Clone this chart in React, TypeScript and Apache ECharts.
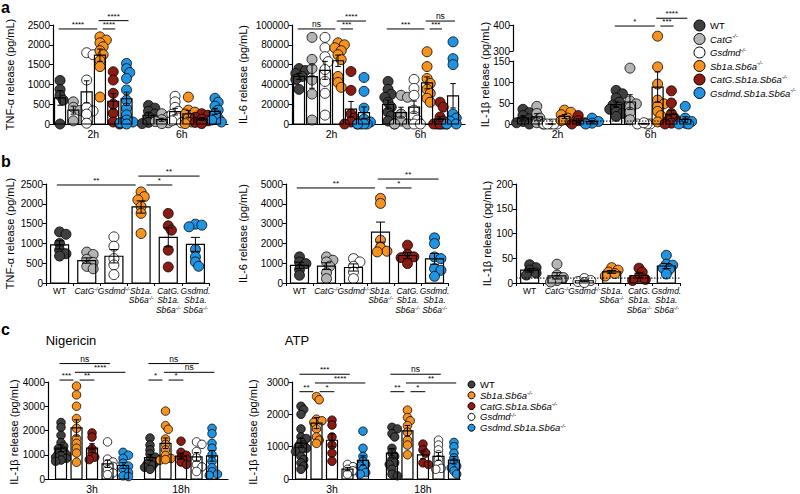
import React, { useEffect, useRef } from 'react';
import * as echarts from 'echarts';

const FONT = '"Liberation Sans", Arial, Helvetica, sans-serif';

// ---------------- categories ----------------
const GENOS_A = ['WT', 'CatG-/-', 'Gsdmd-/-', 'Sb1a.Sb6a-/-', 'CatG.Sb1a.Sb6a-/-', 'Gsdmd.Sb1a.Sb6a-/-'];
const GENOS_C = ['WT', 'Sb1a.Sb6a-/-', 'CatG.Sb1a.Sb6a-/-', 'Gsdmd-/-', 'Gsdmd.Sb1a.Sb6a-/-'];
const TIMES_A = ['2h', '6h'];
const TIMES_C = ['3h', '18h'];
const LABELS_B = ['WT', 'CatG-/-', 'Gsdmd-/-', 'Sb1a.\nSb6a-/-', 'CatG.\nSb1a.\nSb6a-/-', 'Gsdmd.\nSb1a.\nSb6a-/-'];
const COLORS: Record<string, string> = {
  'WT': '#3f3f3f',
  'CatG-/-': '#b4b4b4',
  'Gsdmd-/-': '#ffffff',
  'Sb1a.Sb6a-/-': '#f7921e',
  'CatG.Sb1a.Sb6a-/-': '#8c1b14',
  'Gsdmd.Sb1a.Sb6a-/-': '#1e94e3',
};

// ---------------- panel a: [genotype][replicate] ----------------
const aTNF_2h = [
  [1100, 870, 720, 600, 0],
  [560, 420, 340, 80],
  [1800, 1750, 1110, 420, 330, 250, 20],
  [2200, 2120, 2050, 1950, 1850, 1750, 1600, 1450, 680],
  [1320, 1110, 775, 500, 270, 50, 0],
  [1530, 1400, 1300, 1150, 860, 600, 400, 230, 100, 50, 30, 0],
];
const aTNF_6h = [
  [470, 400, 320, 250, 180, 100, 40, 10],
  [260, 180, 110, 60, 30, 10],
  [700, 560, 420, 320, 240, 150, 80, 30],
  [680, 350, 300, 250, 150, 50, 10],
  [260, 220, 170, 120, 80, 40, 10],
  [650, 550, 450, 350, 250, 150, 100, 50],
];
const aIL6_2h = [
  [56000, 54000, 51000, 48000, 45000, 35000],
  [87500, 65300, 56000, 44400, 30300, 4000],
  [87500, 77000, 68000, 63000, 55000, 43000, 31000, 9000],
  [82000, 80000, 77000, 74000, 70000, 65000, 48000, 42000, 37000],
  [53000, 34000, 10000, 6000, 2000, 0, 0],
  [47000, 33000, 16000, 5000, 2000, 0, 0, 0, 0],
];
const aIL6_6h = [
  [43000, 35000, 30000, 27000, 22000, 17000, 12000, 8000, 3000, 0],
  [29000, 27000, 10000, 3000, 0, 0],
  [45000, 36000, 29000, 14000, 8000, 4000, 0, 0],
  [73000, 58000, 46000, 41000, 35000, 31000, 26000, 22000],
  [22000, 17000, 7000, 3000, 0, 0, 0, 0, 0, 0],
  [83000, 66000, 60000, 10000, 6000, 3000, 0, 0],
];
const aIL1_2h = [
  [35, 27, 20, 12, 6, 3, 0],
  [42, 25, 14, 3, 0],
  [0, 0, 0, 0, 0],
  [33, 28, 22, 14, 8, 3],
  [20, 8, 3, 0],
  [14, 6, 2, 0],
];
const aIL1_6h = [
  [80, 72, 62, 52, 45, 40, 35, 30, 25, 18],
  [133, 55, 48, 40, 28, 10],
  [0, 0, 0, 3],
  [357, 136, 95, 57, 48, 42, 30, 20, 5],
  [79, 50, 25, 14, 8, 5, 2, 0],
  [42, 14, 6, 2, 0, 0],
];

// ---------------- panel b ----------------
const bTNF = [
  [1290, 1230, 1000, 830, 740, 680],
  [780, 720, 600, 520, 420, 360],
  [1165, 930, 617, 456, 211],
  [2300, 2180, 2100, 1930, 1760, 1250],
  [1757, 1444, 1334, 828, 405],
  [1486, 1461, 1419, 845, 659, 532, 422],
];
const bIL6 = [
  [1320, 1060, 980, 680, 390],
  [1318, 1149, 1064, 845, 507, 220],
  [1233, 1064, 845, 557, 220],
  [4274, 4020, 2162, 1791, 1605, 1571],
  [1910, 1450, 1320, 1280, 980],
  [2280, 1993, 1318, 1233, 726, 642, 338],
];
const bIL1 = [
  [37, 31, 26, 20, 16],
  [38, 16, 11, 5, 2],
  [9, 5, 3, 1],
  [31, 26, 22, 19, 14],
  [30, 22, 12, 7, 5],
  [56, 38, 36, 30, 28, 18],
];

// ---------------- panel c: order WT, Sb1a.Sb6a, CatG.Sb1a.Sb6a, Gsdmd, Gsdmd.Sb1a.Sb6a ----------------
const cNig_3h = [
  [2330, 2130, 1800, 1500, 1350, 1250, 1150, 1050, 1000, 950, 900, 850, 780, 730],
  [3830, 3470, 3000, 2490, 2090, 1670, 1470, 1270, 1070, 690],
  [1900, 1730, 1250, 1050, 900, 800],
  [1530, 820, 700, 620, 520, 380, 250, 180],
  [1100, 980, 850, 650, 530, 400, 270, 130, 100],
];
const cNig_18h = [
  [1690, 1400, 1200, 1030, 900, 780, 700, 620, 560, 480, 400],
  [2800, 2200, 2050, 1650, 1430, 1200, 970, 850, 780, 800],
  [1560, 1100, 980, 870, 800, 700, 600],
  [1530, 1430, 1130, 870, 600, 500, 310],
  [2090, 1870, 1470, 1270, 1000, 730, 470, 300, 200, 150],
];
const cATP_3h = [
  [2250, 2150, 2000, 1550, 1300, 1250, 1150, 1050, 1000, 950, 900, 850, 700, 600, 500, 400, 300],
  [2550, 2450, 1850, 1800, 1750, 1550, 1300, 1200, 1100],
  [1820, 1670, 1300, 1050, 800, 550],
  [450, 380, 300, 250, 150],
  [1480, 950, 700, 550, 450, 400, 300, 200, 150],
];
const cATP_18h = [
  [1600, 1550, 1400, 1300, 950, 800, 700, 600, 500, 450, 300, 150, 100],
  [2130, 1900, 1800, 1650, 1450, 1200, 1050, 750],
  [1080, 900, 800, 500, 450],
  [1200, 1050, 900, 750, 600, 450, 330, 300],
  [1130, 1000, 800, 650, 500, 400, 350, 250, 150],
];

// ---------------- significance: [timeIdx, fromGroup, toGroup, yValue, label] ----------------
type Bracket = [number, number, number, number, string];
const sigA_TNF: Bracket[] = [[0, 0, 3, 2400, '****'], [0, 3, 5, 2610, '****'], [0, 3, 4, 2400, '****']];
const sigA_IL6: Bracket[] = [
  [0, 0, 3, 96000, 'ns'], [0, 3, 5, 104000, '****'], [0, 3, 4, 96000, '***'],
  [1, 0, 3, 96000, '***'], [1, 3, 5, 104000, 'ns'], [1, 3, 4, 96000, '***'],
];
const sigA_IL1: Bracket[] = [[1, 0, 3, 396, '*'], [1, 3, 5, 426, '****'], [1, 3, 4, 396, '***']];
const sigB_TNF: Bracket[] = [[0, 0, 3, 2475, '**'], [0, 3, 5, 2700, '**'], [0, 3, 4, 2475, '*']];
const sigB_IL6: Bracket[] = [[0, 0, 3, 4800, '**'], [0, 3, 5, 5250, '**'], [0, 3, 4, 4800, '*']];
const sigC_Nig: Bracket[] = [
  [0, 0, 3, 4760, 'ns'], [0, 1, 4, 4400, '****'], [0, 0, 1, 4080, '***'], [0, 1, 2, 4080, '**'],
  [1, 0, 3, 4760, 'ns'], [1, 1, 4, 4400, 'ns'], [1, 0, 1, 4080, '*'], [1, 1, 2, 4080, '*'],
];
const sigC_ATP: Bracket[] = [
  [0, 0, 3, 3240, '***'], [0, 1, 4, 2970, '****'], [0, 0, 1, 2700, '**'], [0, 1, 2, 2700, '*'],
  [1, 0, 3, 3240, 'ns'], [1, 1, 4, 2970, '**'], [1, 0, 1, 2700, '**'], [1, 1, 2, 2700, '*'],
];

// ---------------- helpers ----------------
const mean = (v: number[]) => v.reduce((a, b) => a + b, 0) / v.length;
const sem = (v: number[]) => {
  if (v.length < 2) return 0;
  const m = mean(v);
  const sd = Math.sqrt(v.reduce((a, b) => a + (b - m) * (b - m), 0) / (v.length - 1));
  return sd / Math.sqrt(v.length);
};

// simple beeswarm layout: returns horizontal pixel offsets
function swarm(values: number[], pyPerUnit: number, d: number): number[] {
  const order = values.map((_, i) => i).sort((a, b) => values[b] - values[a]);
  const placed: [number, number][] = [];
  const res = new Array(values.length).fill(0);
  const step = d * 0.32;
  const cands = [0, 1, -1, 2, -2];
  for (const i of order) {
    const y = values[i] * pyPerUnit;
    let best = 0;
    let bestScore = -Infinity;
    for (const k of cands) {
      const x = k * step;
      let minD = Infinity;
      for (const [px, py] of placed) minD = Math.min(minD, Math.hypot(px - x, py - y));
      if (minD >= d * 0.5) { best = x; break; }
      if (minD > bestScore) { bestScore = minD; best = x; }
    }
    placed.push([best, y]);
    res[i] = best;
  }
  return res;
}

function richName(name: string, sfx = ''): string {
  return name.split('\n').map((line) => {
    if (line === 'WT') return `{n${sfx}|WT}`;
    if (line.endsWith('-/-')) return `{i${sfx}|${line.slice(0, -3)}}{s${sfx}|-/-}`;
    return `{i${sfx}|${line}}`;
  }).join('\n');
}

const richSet = (fs: number, lh: number, sfx = '') => ({
  ['n' + sfx]: { fontSize: fs, lineHeight: lh, color: '#000', fontFamily: FONT },
  ['i' + sfx]: { fontSize: fs, lineHeight: lh, color: '#000', fontStyle: 'italic', fontFamily: FONT },
  ['s' + sfx]: { fontSize: fs * 0.6, lineHeight: fs * 0.6, color: '#000', fontStyle: 'italic', verticalAlign: 'top', fontFamily: FONT },
});

interface Sub {
  grid: { left: number; top: number; width: number; height: number };
  xMin: number; xMax: number; stride: number;
  yMin: number; yMax: number; yInterval: number;
  data: number[][][];
  genos: string[];
  times?: string[];
  catLabels?: string[];
  brackets: Bracket[];
  barW: number; sym: number;
  refLine?: number;
  upper?: { top: number; height: number; yMin: number; yMax: number; yInterval: number };
}

const AXLINE = { show: true, onZero: false, lineStyle: { color: '#000', width: 1.2 } };

function yAxisCfg(gi: number, min: number, max: number, interval: number) {
  return {
    type: 'value', gridIndex: gi, min, max, interval,
    axisLine: AXLINE,
    axisTick: { show: true, length: 3.5, lineStyle: { color: '#000', width: 1 } },
    splitLine: { show: false },
    axisLabel: { color: '#000', fontSize: 10, fontFamily: FONT, margin: 3, formatter: (v: number) => String(v) },
  };
}

function bracketSeries(xi: number, yi: number, brs: Bracket[], stride: number) {
  const segs = brs.map((b) => {
    const [t, g1, g2, y] = b;
    let s = g1 - 0.1;
    let e = g2 + 0.15;
    if (brs.some((o) => o !== b && o[0] === t && o[3] === y && o[2] === g1)) s = g1 + 0.2;
    if (brs.some((o) => o !== b && o[0] === t && o[3] === y && o[1] === g2)) e = g2 - 0.2;
    return [t * stride + s, t * stride + e, y];
  });
  const labels = brs.map((b) => b[4]);
  return {
    type: 'custom', xAxisIndex: xi, yAxisIndex: yi, z: 5, clip: false, silent: true,
    data: segs,
    renderItem: (params: any, api: any) => {
      const lab = labels[params.dataIndex];
      const a = api.coord([api.value(0), api.value(2)]);
      const b = api.coord([api.value(1), api.value(2)]);
      return {
        type: 'group',
        children: [
          { type: 'line', shape: { x1: a[0], y1: a[1], x2: b[0], y2: b[1] }, style: { stroke: '#000', lineWidth: 1 } },
          {
            type: 'text', x: (a[0] + b[0]) / 2, y: a[1] - 0.5,
            style: { text: lab, fontSize: lab === 'ns' ? 8.5 : 8, fill: '#000', align: 'center', verticalAlign: 'bottom', fontFamily: FONT },
          },
        ],
      };
    },
  };
}

function addSub(opt: any, s: Sub) {
  const { grid, xMin, xMax, stride, yMin, yMax, yInterval, data, genos } = s;
  const unitPx = grid.width / (xMax - xMin);
  const py = grid.height / (yMax - yMin);

  const gi = opt.grid.length;
  opt.grid.push({ ...grid });
  let xi: number;
  if (s.catLabels) {
    opt.xAxis.push({
      type: 'category', gridIndex: gi, data: s.catLabels, position: 'bottom',
      axisLine: AXLINE,
      axisTick: { show: true, length: 3, lineStyle: { color: '#000', width: 1 } },
      splitLine: { show: false },
      axisLabel: {
        interval: 0, margin: 3, color: '#000', fontSize: 8.5, lineHeight: 9.5,
        formatter: (v: string) => richName(v), rich: richSet(8.5, 9.5),
      },
    });
    xi = opt.xAxis.length;
    opt.xAxis.push({ type: 'value', gridIndex: gi, min: xMin, max: xMax, show: false, position: 'top' });
  } else {
    const times = s.times || [];
    const centers = times.map((_, t) => t * stride + (genos.length - 1) / 2);
    xi = opt.xAxis.length;
    opt.xAxis.push({
      type: 'value', gridIndex: gi, min: xMin, max: xMax, position: 'bottom',
      axisLine: AXLINE, axisTick: { show: false }, splitLine: { show: false },
      axisLabel: {
        color: '#000', fontSize: 10.5, fontFamily: FONT, margin: 4, customValues: centers,
        formatter: (v: number) => {
          let best = 0;
          centers.forEach((c, i) => { if (Math.abs(c - v) < Math.abs(centers[best] - v)) best = i; });
          return times[best];
        },
      },
    });
  }
  const yi = opt.yAxis.length;
  opt.yAxis.push(yAxisCfg(gi, yMin, yMax, yInterval));

  let uxi = -1, uyi = -1;
  if (s.upper) {
    const ug = opt.grid.length;
    opt.grid.push({ left: grid.left, width: grid.width, top: s.upper.top, height: s.upper.height });
    uxi = opt.xAxis.length;
    opt.xAxis.push({ type: 'value', gridIndex: ug, min: xMin, max: xMax, show: false });
    uyi = opt.yAxis.length;
    opt.yAxis.push(yAxisCfg(ug, s.upper.yMin, s.upper.yMax, s.upper.yInterval));
  }

  const bars: number[][] = [];
  const pts: Record<string, { low: number[][]; up: number[][] }> = {};
  genos.forEach((g) => { pts[g] = { low: [], up: [] }; });
  data.forEach((byGeno, t) => byGeno.forEach((vals, g) => {
    const x = t * stride + g;
    bars.push([x, mean(vals), sem(vals)]);
    const low = vals.filter((v) => !s.upper || v <= yMax);
    const up = vals.filter((v) => s.upper && v > yMax);
    const offs = swarm(low, py, s.sym);
    low.forEach((v, i) => pts[genos[g]].low.push([x + offs[i] / unitPx, v]));
    up.forEach((v) => pts[genos[g]].up.push([x, v]));
  }));

  const bw = s.barW;
  opt.series.push({
    type: 'custom', name: 'bars', xAxisIndex: xi, yAxisIndex: yi, z: 1, silent: true, clip: false,
    data: bars,
    renderItem: (_p: any, api: any) => {
      const x = api.value(0), m = api.value(1);
      const p0 = api.coord([x, 0]);
      const p1 = api.coord([x, m]);
      return { type: 'rect', shape: { x: p0[0] - bw / 2, y: p1[1], width: bw, height: p0[1] - p1[1] }, style: { fill: '#fff' } };
    },
  });

  genos.forEach((g) => {
    const common = {
      type: 'scatter', name: g, symbol: 'circle', symbolSize: s.sym, z: 2, clip: false, silent: true,
      itemStyle: { color: COLORS[g], borderColor: '#000', borderWidth: 0.8, opacity: 1 },
    };
    opt.series.push({ ...common, xAxisIndex: xi, yAxisIndex: yi, data: pts[g].low });
    if (s.upper && pts[g].up.length) opt.series.push({ ...common, xAxisIndex: uxi, yAxisIndex: uyi, data: pts[g].up });
  });

  opt.series.push({
    type: 'custom', name: 'barOutline', xAxisIndex: xi, yAxisIndex: yi, z: 3, silent: true, clip: false,
    data: bars,
    renderItem: (_p: any, api: any) => {
      const x = api.value(0), m = api.value(1), e = api.value(2);
      const p0 = api.coord([x, 0]);
      const p1 = api.coord([x, m]);
      const pu = api.coord([x, m + e]);
      const pl = api.coord([x, Math.max(0, m - e)]);
      const cw = bw * 0.5;
      const ls = { stroke: '#000', lineWidth: 1 };
      return {
        type: 'group',
        children: [
          { type: 'rect', shape: { x: p0[0] - bw / 2, y: p1[1], width: bw, height: p0[1] - p1[1] }, style: { fill: 'none', stroke: '#000', lineWidth: 1.2 } },
          { type: 'line', shape: { x1: p1[0], y1: pl[1], x2: p1[0], y2: pu[1] }, style: ls },
          { type: 'line', shape: { x1: p1[0] - cw / 2, y1: pu[1], x2: p1[0] + cw / 2, y2: pu[1] }, style: ls },
          { type: 'line', shape: { x1: p1[0] - cw / 2, y1: pl[1], x2: p1[0] + cw / 2, y2: pl[1] }, style: ls },
        ],
      };
    },
  });

  if (s.refLine !== undefined) {
    opt.series.push({
      type: 'line', name: 'limit', xAxisIndex: xi, yAxisIndex: yi, z: 4, silent: true, symbol: 'none',
      data: [[xMin, s.refLine], [xMax, s.refLine]],
      lineStyle: { color: '#000', width: 1, type: [1.5, 1.5] },
    });
  }

  if (s.brackets.length) {
    if (s.upper) opt.series.push(bracketSeries(uxi, uyi, s.brackets, stride));
    else opt.series.push(bracketSeries(xi, yi, s.brackets, stride));
  }
}

function yTitle(text: string, x: number, y: number) {
  return {
    type: 'text', x, y, rotation: Math.PI / 2,
    style: { text, fontSize: 11, fill: '#000', fontFamily: FONT, align: 'center', verticalAlign: 'middle' },
  };
}

function buildOption() {
  const opt: any = {
    animation: false,
    textStyle: { fontFamily: FONT },
    grid: [], xAxis: [], yAxis: [], series: [],
  };

  // panel a
  addSub(opt, {
    grid: { left: 53, top: 25, width: 175, height: 99 }, xMin: -0.53, xMax: 12.63, stride: 6.65,
    yMin: 0, yMax: 2500, yInterval: 500, data: [aTNF_2h, aTNF_6h], genos: GENOS_A, times: TIMES_A,
    brackets: sigA_TNF, barW: 11, sym: 10,
  });
  addSub(opt, {
    grid: { left: 292, top: 25, width: 173, height: 99 }, xMin: -0.54, xMax: 12.77, stride: 6.85,
    yMin: 0, yMax: 100000, yInterval: 20000, data: [aIL6_2h, aIL6_6h], genos: GENOS_A, times: TIMES_A,
    brackets: sigA_IL6, barW: 11, sym: 10,
  });
  addSub(opt, {
    grid: { left: 513, top: 61, width: 180, height: 63 }, xMin: -0.72, xMax: 12.3, stride: 6.74,
    yMin: 0, yMax: 150, yInterval: 50, data: [aIL1_2h, aIL1_6h], genos: GENOS_A, times: TIMES_A,
    brackets: sigA_IL1, barW: 11, sym: 10, refLine: 7,
    upper: { top: 25, height: 26, yMin: 300, yMax: 400, yInterval: 100 },
  });

  // panel b
  addSub(opt, {
    grid: { left: 46, top: 184, width: 163, height: 99 }, xMin: -0.5, xMax: 5.5, stride: 0,
    yMin: 0, yMax: 2500, yInterval: 500, data: [bTNF], genos: GENOS_A, catLabels: LABELS_B,
    brackets: sigB_TNF, barW: 18, sym: 10,
  });
  addSub(opt, {
    grid: { left: 286, top: 184, width: 162, height: 99 }, xMin: -0.5, xMax: 5.5, stride: 0,
    yMin: 0, yMax: 5000, yInterval: 1000, data: [bIL6], genos: GENOS_A, catLabels: LABELS_B,
    brackets: sigB_IL6, barW: 18, sym: 10,
  });
  addSub(opt, {
    grid: { left: 516, top: 184, width: 164, height: 99 }, xMin: -0.5, xMax: 5.5, stride: 0,
    yMin: 0, yMax: 200, yInterval: 50, data: [bIL1], genos: GENOS_A, catLabels: LABELS_B,
    brackets: [], barW: 18, sym: 10, refLine: 10,
  });

  // panel c
  addSub(opt, {
    grid: { left: 48, top: 382, width: 180, height: 100 }, xMin: -0.84, xMax: 10.77, stride: 5.74,
    yMin: 0, yMax: 4000, yInterval: 1000, data: [cNig_3h, cNig_18h], genos: GENOS_C, times: TIMES_C,
    brackets: sigC_Nig, barW: 11, sym: 8.5,
  });
  addSub(opt, {
    grid: { left: 292, top: 382, width: 168, height: 100 }, xMin: -0.58, xMax: 10.26, stride: 5.87,
    yMin: 0, yMax: 3000, yInterval: 1000, data: [cATP_3h, cATP_18h], genos: GENOS_C, times: TIMES_C,
    brackets: sigC_ATP, barW: 11, sym: 8.5,
  });

  opt.legend = [
    {
      orient: 'vertical', left: 693.5, top: 19.5, itemWidth: 11, itemHeight: 11, itemGap: 1.5,
      icon: 'circle', selectedMode: false, data: GENOS_A, padding: 0,
      itemStyle: { borderColor: '#000', borderWidth: 1 },
      formatter: (n: string) => richName(n, 'L'),
      textStyle: { fontSize: 9.5, color: '#000', rich: richSet(9.5, 11.5, 'L') },
    },
    {
      orient: 'vertical', left: 467.5, top: 379.5, itemWidth: 7, itemHeight: 7, itemGap: 0.8,
      icon: 'circle', selectedMode: false, data: GENOS_C, padding: 0,
      itemStyle: { borderColor: '#000', borderWidth: 1 },
      formatter: (n: string) => richName(n, 'C'),
      textStyle: { fontSize: 9.5, color: '#000', rich: richSet(9.5, 10, 'C') },
    },
  ];

  const letter = (t: string, x: number, y: number) => ({
    type: 'text', x, y,
    style: { text: t, fontSize: 16, fontWeight: 'bold', fill: '#000', fontFamily: FONT, align: 'left', verticalAlign: 'middle' },
  });
  const title = (t: string, x: number, y: number) => ({
    type: 'text', x, y,
    style: { text: t, fontSize: 13, fill: '#000', fontFamily: FONT, align: 'center', verticalAlign: 'middle' },
  });

  opt.graphic = [
    letter('a', 1, 7), letter('b', 1, 161), letter('c', 1, 329),
    title('Nigericin', 71, 340), title('ATP', 297, 340),
    yTitle('TNF-α release (pg/mL)', 10, 74.5),
    yTitle('IL-6 release (pg/mL)', 243, 74.5),
    yTitle('IL-1β release (pg/mL)', 485, 74.5),
    yTitle('TNF-α release (pg/mL)', 10, 233.5),
    yTitle('IL-6 release (pg/mL)', 243, 233.5),
    yTitle('IL-1β release (pg/mL)', 487, 233.5),
    yTitle('IL-1β release (pg/mL)', 14, 432),
    yTitle('IL-1β release (pg/mL)', 253, 432),
  ];
  return opt;
}

export default function App() {
  const ref = useRef<HTMLDivElement>(null);
  useEffect(() => {
    document.body.style.margin = '0';
    if (!ref.current) return;
    const chart = echarts.init(ref.current, undefined, { renderer: 'svg' });
    chart.setOption(buildOption());
    return () => chart.dispose();
  }, []);
  return <div ref={ref} style={{ width: 800, height: 494, background: '#fff' }} />;
}
